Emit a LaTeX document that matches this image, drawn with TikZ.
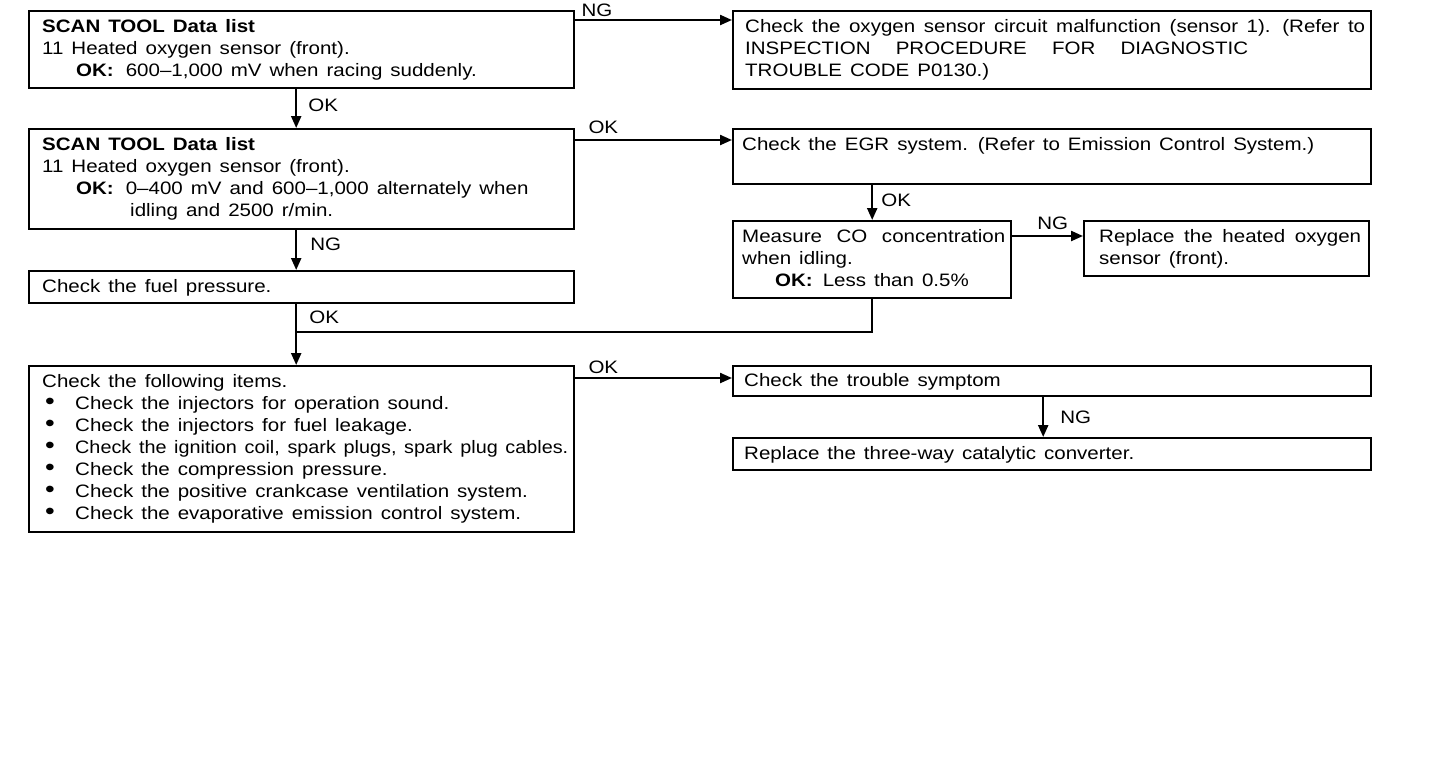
\documentclass[tikz,border=0pt]{standalone}
\usepackage{fontspec}
\setmainfont{Liberation Sans}[FakeStretch=1.14, WordSpace=1.4]
\usepackage{graphicx}
\usetikzlibrary{positioning, arrows.meta}
\newcommand{\itemdot}{\makebox[33pt][l]{\hspace{3pt}\scalebox{1.35}{•}}}

\begin{document}
\begin{tikzpicture}[x=1pt, y=-1pt,
    box/.style={draw, line width=2.4pt, inner sep=0pt, anchor=north west},
    txt/.style={inner sep=0pt, anchor=north west, align=left, font=\fontsize{18}{22}\selectfont},
    lbl/.style={inner sep=0pt, font=\fontsize{18}{22}\selectfont},
    conn/.style={line width=2.2pt},
    arr/.style={conn, -{Triangle[length=12pt, width=10pt]}}]
    % page size of the reference (pixel units, y down)
    \useasboundingbox (0,0) rectangle (1440,764);

    % Left column
    \node[box, minimum width=545pt, minimum height=77pt] (scanA) at (28,10) {};
    \node[box, minimum width=545pt, minimum height=100pt] (scanB) at (28,128) {};
    \node[box, minimum width=545pt, minimum height=32pt] (fuel) at (28,270) {};
    \node[box, minimum width=545pt, minimum height=166pt] (items) at (28,365) {};

    % Right column
    \node[box, minimum width=638pt, minimum height=78pt] (circ) at (732,10) {};
    \node[box, minimum width=638pt, minimum height=55pt] (egr) at (732,128) {};
    \node[box, minimum width=278pt, minimum height=77pt] (meas) at (732,220) {};
    \node[box, minimum width=285pt, minimum height=55pt] (repl) at (1083,220) {};
    \node[box, minimum width=638pt, minimum height=30pt] (symp) at (732,365) {};
    \node[box, minimum width=638pt, minimum height=32pt] (conv) at (732,437) {};

    % Box texts
    \node[txt, below right=9pt and 14pt of scanA.north west] (scanAtxt) {%
        \textbf{SCAN TOOL Data list}\\
        11 Heated oxygen sensor (front).\\
        \hspace*{34pt}\textbf{OK:}\hspace{12pt}600–1,000 mV when racing suddenly.};
    \node[txt, below right=9pt and 14pt of scanB.north west] (scanBtxt) {%
        \textbf{SCAN TOOL Data list}\\
        11 Heated oxygen sensor (front).\\
        \hspace*{34pt}\textbf{OK:}\hspace{12pt}0–400 mV and 600–1,000 alternately when\\
        \hspace*{88pt}idling and 2500 r/min.};
    \node[txt, below right=9pt and 14pt of fuel.north west] (fueltxt) {Check the fuel pressure.};
    \node[txt, below right=9pt and 14pt of items.north west] (itemstxt) {%
        Check the following items.\\
        \itemdot Check the injectors for operation sound.\\
        \itemdot Check the injectors for fuel leakage.\\
        \itemdot \scalebox{0.965}[1]{Check the ignition coil, spark plugs, spark plug cables.}\\
        \itemdot Check the compression pressure.\\
        \itemdot Check the positive crankcase ventilation system.\\
        \itemdot Check the evaporative emission control system.};
    \node[txt, below right=9pt and 13pt of circ.north west] (circtxt) {%
        \makebox[620pt][s]{Check the oxygen sensor circuit malfunction (sensor 1). (Refer to}\\
        \makebox[503pt][s]{INSPECTION PROCEDURE FOR DIAGNOSTIC}\\
        TROUBLE CODE P0130.)};
    \node[txt, below right=9pt and 10pt of egr.north west] (egrtxt) {%
        Check the EGR system. (Refer to Emission Control System.)};
    \node[txt, below right=9pt and 10pt of meas.north west] (meastxt) {%
        \makebox[263pt][s]{Measure CO concentration}\\
        when idling.\\
        \hspace*{33pt}\textbf{OK:}\hspace{10pt}Less than 0.5\%};
    \node[txt, below right=9pt and 16pt of repl.north west] (repltxt) {%
        \makebox[262pt][s]{Replace the heated oxygen}\\
        sensor (front).};
    \node[txt, below right=8pt and 12pt of symp.north west] (symptxt) {Check the trouble symptom};
    \node[txt, below right=9pt and 12pt of conv.north west] (convtxt) {Replace the three-way catalytic converter.};

    % Connectors, left column
    \draw[arr] ([xshift=-5.5pt]scanA.south) -- node[lbl, right, pos=0.4, xshift=11pt] {OK} ([xshift=-5.5pt]scanB.north);
    \draw[arr] ([xshift=-5.5pt]scanB.south) -- node[lbl, right, pos=0.36, xshift=13pt] {NG} ([xshift=-5.5pt]fuel.north);
    \draw[arr] ([xshift=-5.5pt]fuel.south) -- node[lbl, right, pos=0.22, xshift=12pt] {OK} ([xshift=-5.5pt]items.north);

    % Connectors across
    \draw[arr] ([yshift=-10pt]scanA.north east) -- node[lbl, pos=0, above right, xshift=5pt, yshift=2pt] {NG} ([yshift=-10pt]circ.north west);
    \draw[arr] ([yshift=-12pt]scanB.north east) -- node[lbl, pos=0, above right, xshift=12pt, yshift=5pt] {OK} ([yshift=-12pt]egr.north west);
    \draw[arr] ([yshift=-13pt]items.north east) -- node[lbl, pos=0, above right, xshift=12pt, yshift=3pt] {OK} ([yshift=-13pt]symp.north west);

    % Connectors, right column
    \draw[arr] (egr.south -| meas.north) -- node[lbl, right, pos=0.43, xshift=8pt] {OK} (meas.north);
    \draw[arr] ([yshift=-16pt]meas.north east) -- node[lbl, midway, above, xshift=5pt, yshift=5pt] {NG} ([yshift=-16pt]repl.north west);
    \draw[arr] ([xshift=-9pt]symp.south) -- node[lbl, right, midway, xshift=16pt] {NG} ([xshift=-9pt]conv.north);

    % CO result OK joins the fuel pressure OK line
    \coordinate (join) at (295,332);
    \draw[conn] (meas.south) |- (join);
\end{tikzpicture}
\end{document}
